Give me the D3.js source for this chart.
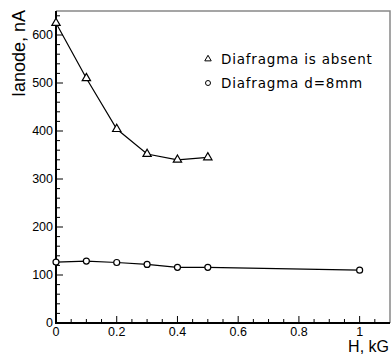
<html>
<head>
    <meta charset="utf-8">
    <title>Ianode vs H</title>
    <style>
        body { margin: 0; background: #fff; }
    </style>
</head>
<body>
    <script src="https://cdn.jsdelivr.net/npm/d3@7/dist/d3.min.js"></script>
    <script>
        // data
        var hAbsent = [0, 0.1, 0.2, 0.3, 0.4, 0.5];
        var iAbsent = [625, 510, 404, 352, 340, 345];
        var hDiaf = [0, 0.1, 0.2, 0.3, 0.4, 0.5, 1.0];
        var iDiaf = [127, 129, 126, 122, 116, 116, 110];
        var xTicks = [0, 0.2, 0.4, 0.6, 0.8, 1];
        var yTicks = [0, 100, 200, 300, 400, 500, 600];
        var legendLabels = ["Diafragma is absent", "Diafragma d=8mm"];

        var width = 391, height = 355;
        var pLeft = 56, pRight = 390, pTop = 11, pBottom = 323;
        var font = "'Liberation Sans', Arial, sans-serif";

        var svg = d3.select("body").append("svg")
            .attr("width", width)
            .attr("height", height)
            .attr("font-family", font);

        var x = d3.scaleLinear().domain([0, 1.1]).range([pLeft, pRight]);
        var y = d3.scaleLinear().domain([0, 650]).range([pBottom, pTop]);

        // frame (top / right)
        svg.append("path")
            .attr("d", "M" + pLeft + "," + pTop + "H" + pRight + "V" + pBottom)
            .attr("fill", "none").attr("stroke", "#888").attr("stroke-width", 1.5);

        // ticks, inward
        var g = svg.append("g").attr("stroke", "#000").attr("stroke-width", 1);
        d3.range(0, 651, 20).forEach(function (v) {
            var len = v % 100 === 0 ? 7 : 4;
            g.append("line").attr("x1", pLeft).attr("x2", pLeft + len)
                .attr("y1", y(v)).attr("y2", y(v));
        });
        d3.range(0, 22).forEach(function (i) {
            var v = i * 0.05;
            var len = i % 4 === 0 ? 7 : 4;
            g.append("line").attr("x1", x(v)).attr("x2", x(v))
                .attr("y1", pBottom).attr("y2", pBottom - len);
        });

        // axes lines
        svg.append("path")
            .attr("d", "M" + pLeft + "," + pTop + "V" + pBottom + "H" + pRight)
            .attr("fill", "none").attr("stroke", "#000").attr("stroke-width", 2);

        // tick labels
        svg.selectAll(".ylab").data(yTicks).enter().append("text")
            .attr("x", pLeft - 3).attr("y", d => y(d) + 4)
            .attr("text-anchor", "end").attr("font-size", 12.5)
            .text(d => d);
        svg.selectAll(".xlab").data(xTicks).enter().append("text")
            .attr("x", d => x(d)).attr("y", pBottom + 13)
            .attr("text-anchor", "middle").attr("font-size", 12.5)
            .text(d => d);

        // axis titles
        svg.append("text")
            .attr("transform", "translate(25,10) rotate(-90)")
            .attr("text-anchor", "end").attr("font-size", 18)
            .text("Ianode, nA");
        svg.append("text")
            .attr("x", 389).attr("y", 352)
            .attr("text-anchor", "end").attr("font-size", 16)
            .text("H, kG");

        var line = d3.line().x(d => x(d[0])).y(d => y(d[1]));
        var absent = hAbsent.map((h, i) => [h, iAbsent[i]]);
        var diaf = hDiaf.map((h, i) => [h, iDiaf[i]]);

        svg.append("path").datum(absent).attr("d", line)
            .attr("fill", "none").attr("stroke", "#000").attr("stroke-width", 1.2);
        svg.append("path").datum(diaf).attr("d", line)
            .attr("fill", "none").attr("stroke", "#000").attr("stroke-width", 1.2);

        var tri = d3.symbol().type(d3.symbolTriangle).size(30);
        svg.selectAll(".tri").data(absent).enter().append("path")
            .attr("d", tri)
            .attr("transform", d => "translate(" + x(d[0]) + "," + y(d[1]) + ")")
            .attr("fill", "#fff").attr("stroke", "#000").attr("stroke-width", 1.2);
        svg.selectAll(".circ").data(diaf).enter().append("circle")
            .attr("cx", d => x(d[0])).attr("cy", d => y(d[1])).attr("r", 3)
            .attr("fill", "#fff").attr("stroke", "#000").attr("stroke-width", 1.2);

        // legend
        var lg = svg.append("g");
        legendLabels.forEach(function (t, i) {
            var ly = 59 + i * 24;
            if (i === 0) {
                lg.append("path").attr("d", d3.symbol().type(d3.symbolTriangle).size(18))
                    .attr("transform", "translate(208," + ly + ")")
                    .attr("fill", "#fff").attr("stroke", "#000").attr("stroke-width", 1);
            } else {
                lg.append("circle").attr("cx", 208).attr("cy", ly).attr("r", 2.5)
                    .attr("fill", "#fff").attr("stroke", "#000").attr("stroke-width", 1);
            }
            lg.append("text").attr("x", 221).attr("y", ly + 5)
                .attr("font-family", "'DejaVu Sans', sans-serif")
                .attr("font-size", 13.5).attr("letter-spacing", 0.8).text(t);
        });
    </script>
</body>
</html>
